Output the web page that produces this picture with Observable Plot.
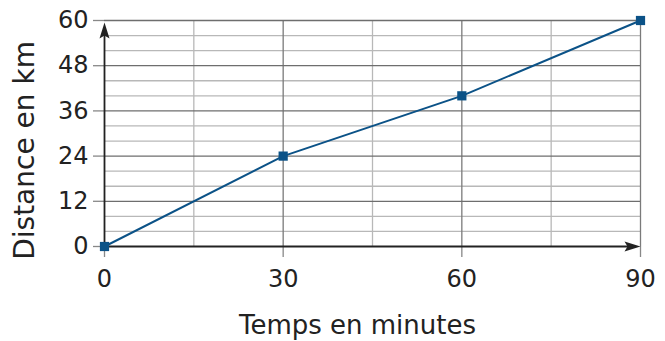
<!DOCTYPE html>
<html>
<head>
<meta charset="utf-8">
<script src="https://cdn.jsdelivr.net/npm/d3@7"></script>
<script src="https://cdn.jsdelivr.net/npm/@observablehq/plot@0.6"></script>
<style>
  body { margin: 0; background: #fff; }
  svg { font-family: "DejaVu Sans", sans-serif; }
</style>
</head>
<body>
<div id="chart"></div>
<script>
const minutes = [0, 30, 60, 90];
const distance = [0, 24, 40, 60];
const xTicks = [0, 30, 60, 90];
const yTicks = [0, 12, 24, 36, 48, 60];
const xMinor = [15, 45, 75];
const yMinor = [4, 8, 16, 20, 28, 32, 40, 44, 52, 56];
const xLabel = "Temps en minutes";
const yLabel = "Distance en km";

const data = minutes.map((m, i) => ({m, d: distance[i]}));

const arrowUp = {
  draw(context) {
    context.moveTo(0, 0);
    context.lineTo(-5, 16);
    context.lineTo(0, 13);
    context.lineTo(5, 16);
    context.closePath();
  }
};

const chart = Plot.plot({
  width: 665,
  height: 341,
  marginLeft: 104,
  marginRight: 25,
  marginTop: 20,
  marginBottom: 95,
  style: {fontFamily: "DejaVu Sans, sans-serif", fontSize: "24px", color: "#222", background: "#fff"},
  x: {domain: [0, 90]},
  y: {domain: [0, 60]},
  marks: [
    Plot.ruleX(xMinor, {stroke: "#b8b8b8", strokeWidth: 1.3}),
    Plot.ruleY(yMinor, {stroke: "#b8b8b8", strokeWidth: 1.3}),
    Plot.ruleX(xTicks.filter(v => v > 0), {stroke: "#7a7a7a", strokeWidth: 1.3}),
    Plot.ruleY(yTicks.filter(v => v > 0), {stroke: "#6e6e6e", strokeWidth: 1.3}),
    Plot.axisX(xTicks, {tickSize: 11, tickPadding: 12, fontSize: 24, stroke: "#888", strokeWidth: 1.3, label: null}),
    Plot.axisY(yTicks, {tickSize: 11, tickPadding: 5, fontSize: 24, stroke: "#888", strokeWidth: 1.3, label: null}),
    Plot.text([xLabel], {x: 45, y: 0, dy: 79, dx: -15, fontSize: 26, fill: "#222"}),
    Plot.text([yLabel], {x: 0, y: 25.5, dx: -79, rotate: -90, fontSize: 28, fill: "#222"}),
    Plot.ruleY([0], {stroke: "#222", strokeWidth: 1.8, x1: 0, x2: 88}),
    Plot.ruleX([0], {stroke: "#222", strokeWidth: 1.8, y1: 0, y2: 58}),
    Plot.dot([{x: 0, y: 60}], {x: "x", y: "y", symbol: arrowUp, fill: "#222", stroke: null, dy: 2}),
    Plot.dot([{x: 90, y: 0}], {x: "x", y: "y", symbol: arrowUp, fill: "#222", stroke: null, rotate: 90}),
    Plot.line(data, {x: "m", y: "d", stroke: "#0b5287", strokeWidth: 2}),
    Plot.dot(data, {x: "m", y: "d", symbol: "square", r: 5.2, fill: "#0b5287", stroke: null})
  ]
});
document.getElementById("chart").appendChild(chart);
</script>
</body>
</html>
